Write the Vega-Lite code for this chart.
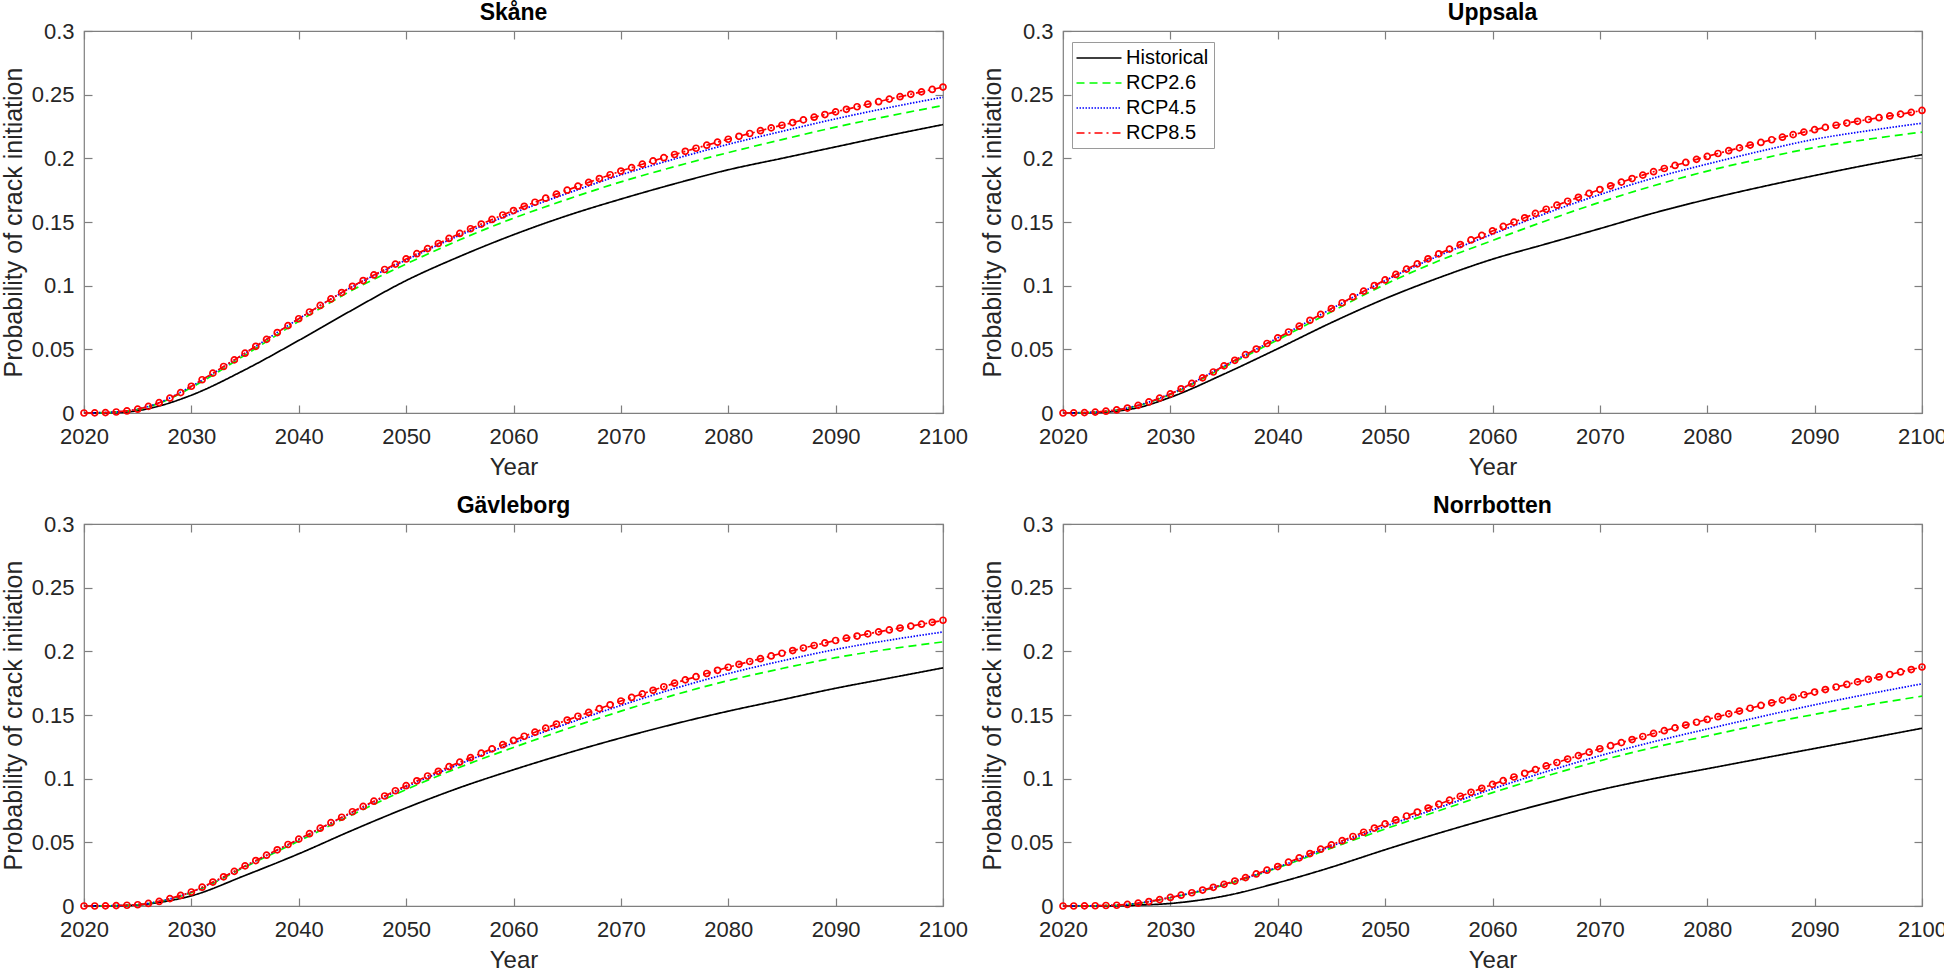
{
"$schema": "https://vega.github.io/schema/vega-lite/v6.json",
"background": "#ffffff",
"padding": {"left": 0, "top": 1, "right": 0, "bottom": 0},
"data": {"values": [
{"r":"Skåne","x":2020,"C":0,"H":0,"A":0,"B":0},
{"r":"Skåne","x":2021,"C":0.0001},
{"r":"Skåne","x":2022,"C":0.0003},
{"r":"Skåne","x":2023,"C":0.0008,"H":0.0003,"A":0.0007,"B":0.0008},
{"r":"Skåne","x":2024,"C":0.0016},
{"r":"Skåne","x":2025,"C":0.003,"H":0.0018,"A":0.0028,"B":0.003},
{"r":"Skåne","x":2026,"C":0.0052},
{"r":"Skåne","x":2027,"C":0.0081,"H":0.0055,"A":0.0076,"B":0.0081},
{"r":"Skåne","x":2028,"C":0.0117},
{"r":"Skåne","x":2029,"C":0.016},
{"r":"Skåne","x":2030,"C":0.021,"H":0.014,"A":0.02,"B":0.021},
{"r":"Skåne","x":2031,"C":0.0261},
{"r":"Skåne","x":2032,"C":0.0313},
{"r":"Skåne","x":2033,"C":0.0365},
{"r":"Skåne","x":2034,"C":0.0417},
{"r":"Skåne","x":2035,"C":0.047,"H":0.034,"A":0.0455,"B":0.047},
{"r":"Skåne","x":2036,"C":0.0524},
{"r":"Skåne","x":2037,"C":0.0578},
{"r":"Skåne","x":2038,"C":0.0632},
{"r":"Skåne","x":2039,"C":0.0686},
{"r":"Skåne","x":2040,"C":0.074,"H":0.057,"A":0.072,"B":0.074},
{"r":"Skåne","x":2041,"C":0.0793},
{"r":"Skåne","x":2042,"C":0.0845},
{"r":"Skåne","x":2043,"C":0.0896},
{"r":"Skåne","x":2044,"C":0.0946},
{"r":"Skåne","x":2045,"C":0.0995,"H":0.081,"A":0.0965,"B":0.0992},
{"r":"Skåne","x":2046,"C":0.104},
{"r":"Skåne","x":2047,"C":0.1084},
{"r":"Skåne","x":2048,"C":0.1127},
{"r":"Skåne","x":2049,"C":0.1169},
{"r":"Skåne","x":2050,"C":0.121,"H":0.104,"A":0.117,"B":0.1202},
{"r":"Skåne","x":2051,"C":0.1251},
{"r":"Skåne","x":2052,"C":0.1291},
{"r":"Skåne","x":2053,"C":0.1331},
{"r":"Skåne","x":2054,"C":0.1371},
{"r":"Skåne","x":2055,"C":0.141,"H":0.123,"A":0.136,"B":0.1396},
{"r":"Skåne","x":2056,"C":0.1447},
{"r":"Skåne","x":2057,"C":0.1484},
{"r":"Skåne","x":2058,"C":0.152},
{"r":"Skåne","x":2059,"C":0.1555},
{"r":"Skåne","x":2060,"C":0.159,"H":0.14,"A":0.153,"B":0.157},
{"r":"Skåne","x":2061,"C":0.1623},
{"r":"Skåne","x":2062,"C":0.1655},
{"r":"Skåne","x":2063,"C":0.1687},
{"r":"Skåne","x":2064,"C":0.1719},
{"r":"Skåne","x":2065,"C":0.175,"H":0.155,"A":0.1678,"B":0.1725},
{"r":"Skåne","x":2066,"C":0.1781},
{"r":"Skåne","x":2067,"C":0.1811},
{"r":"Skåne","x":2068,"C":0.1841},
{"r":"Skåne","x":2069,"C":0.1871},
{"r":"Skåne","x":2070,"C":0.19,"H":0.168,"A":0.1815,"B":0.187},
{"r":"Skåne","x":2071,"C":0.1927},
{"r":"Skåne","x":2072,"C":0.1954},
{"r":"Skåne","x":2073,"C":0.198},
{"r":"Skåne","x":2074,"C":0.2005},
{"r":"Skåne","x":2075,"C":0.203,"H":0.18,"A":0.1935,"B":0.1995},
{"r":"Skåne","x":2076,"C":0.2055},
{"r":"Skåne","x":2077,"C":0.2079},
{"r":"Skåne","x":2078,"C":0.2103},
{"r":"Skåne","x":2079,"C":0.2127},
{"r":"Skåne","x":2080,"C":0.215,"H":0.191,"A":0.2045,"B":0.211},
{"r":"Skåne","x":2081,"C":0.2173},
{"r":"Skåne","x":2082,"C":0.2195},
{"r":"Skåne","x":2083,"C":0.2217},
{"r":"Skåne","x":2084,"C":0.2239},
{"r":"Skåne","x":2085,"C":0.226,"H":0.2,"A":0.2147,"B":0.2212},
{"r":"Skåne","x":2086,"C":0.2281},
{"r":"Skåne","x":2087,"C":0.2302},
{"r":"Skåne","x":2088,"C":0.2323},
{"r":"Skåne","x":2089,"C":0.2344},
{"r":"Skåne","x":2090,"C":0.2365,"H":0.209,"A":0.2245,"B":0.231},
{"r":"Skåne","x":2091,"C":0.2385},
{"r":"Skåne","x":2092,"C":0.2405},
{"r":"Skåne","x":2093,"C":0.2425},
{"r":"Skåne","x":2094,"C":0.2445},
{"r":"Skåne","x":2095,"C":0.2465,"H":0.218,"A":0.2333,"B":0.2399},
{"r":"Skåne","x":2096,"C":0.2484},
{"r":"Skåne","x":2097,"C":0.2503},
{"r":"Skåne","x":2098,"C":0.2522},
{"r":"Skåne","x":2099,"C":0.2541},
{"r":"Skåne","x":2100,"C":0.256,"H":0.2265,"A":0.2415,"B":0.248},

{"r":"Uppsala","x":2020,"C":0,"H":0,"A":0,"B":0},
{"r":"Uppsala","x":2021,"C":0.0001},
{"r":"Uppsala","x":2022,"C":0.0003},
{"r":"Uppsala","x":2023,"C":0.0007,"H":0.0003,"A":0.0006,"B":0.0007},
{"r":"Uppsala","x":2024,"C":0.0014},
{"r":"Uppsala","x":2025,"C":0.0024,"H":0.0015,"A":0.0023,"B":0.0024},
{"r":"Uppsala","x":2026,"C":0.0039},
{"r":"Uppsala","x":2027,"C":0.006,"H":0.0042,"A":0.0058,"B":0.006},
{"r":"Uppsala","x":2028,"C":0.0087},
{"r":"Uppsala","x":2029,"C":0.0117},
{"r":"Uppsala","x":2030,"C":0.015,"H":0.0123,"A":0.0145,"B":0.015},
{"r":"Uppsala","x":2031,"C":0.019},
{"r":"Uppsala","x":2032,"C":0.0232},
{"r":"Uppsala","x":2033,"C":0.0276},
{"r":"Uppsala","x":2034,"C":0.0322},
{"r":"Uppsala","x":2035,"C":0.037,"H":0.0306,"A":0.036,"B":0.037},
{"r":"Uppsala","x":2036,"C":0.0414},
{"r":"Uppsala","x":2037,"C":0.0458},
{"r":"Uppsala","x":2038,"C":0.0502},
{"r":"Uppsala","x":2039,"C":0.0546},
{"r":"Uppsala","x":2040,"C":0.059,"H":0.0505,"A":0.0575,"B":0.059},
{"r":"Uppsala","x":2041,"C":0.0636},
{"r":"Uppsala","x":2042,"C":0.0682},
{"r":"Uppsala","x":2043,"C":0.0728},
{"r":"Uppsala","x":2044,"C":0.0774},
{"r":"Uppsala","x":2045,"C":0.082,"H":0.071,"A":0.0795,"B":0.0818},
{"r":"Uppsala","x":2046,"C":0.0866},
{"r":"Uppsala","x":2047,"C":0.0912},
{"r":"Uppsala","x":2048,"C":0.0957},
{"r":"Uppsala","x":2049,"C":0.1001},
{"r":"Uppsala","x":2050,"C":0.1045,"H":0.0898,"A":0.101,"B":0.104},
{"r":"Uppsala","x":2051,"C":0.1088},
{"r":"Uppsala","x":2052,"C":0.113},
{"r":"Uppsala","x":2053,"C":0.1171},
{"r":"Uppsala","x":2054,"C":0.1211},
{"r":"Uppsala","x":2055,"C":0.125,"H":0.1062,"A":0.1195,"B":0.1235},
{"r":"Uppsala","x":2056,"C":0.1287},
{"r":"Uppsala","x":2057,"C":0.1323},
{"r":"Uppsala","x":2058,"C":0.1359},
{"r":"Uppsala","x":2059,"C":0.1395},
{"r":"Uppsala","x":2060,"C":0.143,"H":0.1208,"A":0.1355,"B":0.1405},
{"r":"Uppsala","x":2061,"C":0.1465},
{"r":"Uppsala","x":2062,"C":0.1499},
{"r":"Uppsala","x":2063,"C":0.1533},
{"r":"Uppsala","x":2064,"C":0.1567},
{"r":"Uppsala","x":2065,"C":0.16,"H":0.1328,"A":0.151,"B":0.1568},
{"r":"Uppsala","x":2066,"C":0.1632},
{"r":"Uppsala","x":2067,"C":0.1663},
{"r":"Uppsala","x":2068,"C":0.1694},
{"r":"Uppsala","x":2069,"C":0.1725},
{"r":"Uppsala","x":2070,"C":0.1755,"H":0.1448,"A":0.1655,"B":0.1715},
{"r":"Uppsala","x":2071,"C":0.1784},
{"r":"Uppsala","x":2072,"C":0.1813},
{"r":"Uppsala","x":2073,"C":0.1841},
{"r":"Uppsala","x":2074,"C":0.1868},
{"r":"Uppsala","x":2075,"C":0.1895,"H":0.157,"A":0.1785,"B":0.1845},
{"r":"Uppsala","x":2076,"C":0.192},
{"r":"Uppsala","x":2077,"C":0.1944},
{"r":"Uppsala","x":2078,"C":0.1968},
{"r":"Uppsala","x":2079,"C":0.1992},
{"r":"Uppsala","x":2080,"C":0.2015,"H":0.1678,"A":0.19,"B":0.1955},
{"r":"Uppsala","x":2081,"C":0.2038},
{"r":"Uppsala","x":2082,"C":0.206},
{"r":"Uppsala","x":2083,"C":0.2082},
{"r":"Uppsala","x":2084,"C":0.2104},
{"r":"Uppsala","x":2085,"C":0.2125,"H":0.1775,"A":0.1997,"B":0.2057},
{"r":"Uppsala","x":2086,"C":0.2146},
{"r":"Uppsala","x":2087,"C":0.2166},
{"r":"Uppsala","x":2088,"C":0.2186},
{"r":"Uppsala","x":2089,"C":0.2206},
{"r":"Uppsala","x":2090,"C":0.2225,"H":0.1865,"A":0.2085,"B":0.215},
{"r":"Uppsala","x":2091,"C":0.2243},
{"r":"Uppsala","x":2092,"C":0.226},
{"r":"Uppsala","x":2093,"C":0.2277},
{"r":"Uppsala","x":2094,"C":0.2291},
{"r":"Uppsala","x":2095,"C":0.2305,"H":0.195,"A":0.215,"B":0.2217},
{"r":"Uppsala","x":2096,"C":0.2319},
{"r":"Uppsala","x":2097,"C":0.2333},
{"r":"Uppsala","x":2098,"C":0.2347},
{"r":"Uppsala","x":2099,"C":0.2361},
{"r":"Uppsala","x":2100,"C":0.2376,"H":0.2028,"A":0.2206,"B":0.2276},

{"r":"Gävleborg","x":2020,"C":0,"H":0,"A":0,"B":0},
{"r":"Gävleborg","x":2021,"C":0},
{"r":"Gävleborg","x":2022,"C":0.0001},
{"r":"Gävleborg","x":2023,"C":0.0003,"H":0.0002,"A":0.0003,"B":0.0003},
{"r":"Gävleborg","x":2024,"C":0.0006},
{"r":"Gävleborg","x":2025,"C":0.001,"H":0.0008,"A":0.001,"B":0.001},
{"r":"Gävleborg","x":2026,"C":0.002},
{"r":"Gävleborg","x":2027,"C":0.0036,"H":0.0028,"A":0.0035,"B":0.0036},
{"r":"Gävleborg","x":2028,"C":0.0058},
{"r":"Gävleborg","x":2029,"C":0.0083},
{"r":"Gävleborg","x":2030,"C":0.011,"H":0.008,"A":0.0105,"B":0.011},
{"r":"Gävleborg","x":2031,"C":0.0148},
{"r":"Gävleborg","x":2032,"C":0.0188},
{"r":"Gävleborg","x":2033,"C":0.0229},
{"r":"Gävleborg","x":2034,"C":0.0272},
{"r":"Gävleborg","x":2035,"C":0.0315,"H":0.024,"A":0.0307,"B":0.0313},
{"r":"Gävleborg","x":2036,"C":0.0357},
{"r":"Gävleborg","x":2037,"C":0.0399},
{"r":"Gävleborg","x":2038,"C":0.0441},
{"r":"Gävleborg","x":2039,"C":0.0483},
{"r":"Gävleborg","x":2040,"C":0.0525,"H":0.041,"A":0.051,"B":0.0522},
{"r":"Gävleborg","x":2041,"C":0.0568},
{"r":"Gävleborg","x":2042,"C":0.0611},
{"r":"Gävleborg","x":2043,"C":0.0654},
{"r":"Gävleborg","x":2044,"C":0.0697},
{"r":"Gävleborg","x":2045,"C":0.074,"H":0.0595,"A":0.0718,"B":0.0735},
{"r":"Gävleborg","x":2046,"C":0.0782},
{"r":"Gävleborg","x":2047,"C":0.0823},
{"r":"Gävleborg","x":2048,"C":0.0864},
{"r":"Gävleborg","x":2049,"C":0.0905},
{"r":"Gävleborg","x":2050,"C":0.0945,"H":0.077,"A":0.0915,"B":0.0935},
{"r":"Gävleborg","x":2051,"C":0.0983},
{"r":"Gävleborg","x":2052,"C":0.1021},
{"r":"Gävleborg","x":2053,"C":0.1058},
{"r":"Gävleborg","x":2054,"C":0.1094},
{"r":"Gävleborg","x":2055,"C":0.113,"H":0.093,"A":0.109,"B":0.1115},
{"r":"Gävleborg","x":2056,"C":0.1165},
{"r":"Gävleborg","x":2057,"C":0.12},
{"r":"Gävleborg","x":2058,"C":0.1234},
{"r":"Gävleborg","x":2059,"C":0.1267},
{"r":"Gävleborg","x":2060,"C":0.13,"H":0.107,"A":0.1245,"B":0.128},
{"r":"Gävleborg","x":2061,"C":0.1333},
{"r":"Gävleborg","x":2062,"C":0.1365},
{"r":"Gävleborg","x":2063,"C":0.1397},
{"r":"Gävleborg","x":2064,"C":0.1429},
{"r":"Gävleborg","x":2065,"C":0.146,"H":0.12,"A":0.1392,"B":0.1432},
{"r":"Gävleborg","x":2066,"C":0.149},
{"r":"Gävleborg","x":2067,"C":0.152},
{"r":"Gävleborg","x":2068,"C":0.155},
{"r":"Gävleborg","x":2069,"C":0.158},
{"r":"Gävleborg","x":2070,"C":0.161,"H":0.132,"A":0.153,"B":0.1575},
{"r":"Gävleborg","x":2071,"C":0.1638},
{"r":"Gävleborg","x":2072,"C":0.1666},
{"r":"Gävleborg","x":2073,"C":0.1694},
{"r":"Gävleborg","x":2074,"C":0.1722},
{"r":"Gävleborg","x":2075,"C":0.175,"H":0.143,"A":0.1658,"B":0.1708},
{"r":"Gävleborg","x":2076,"C":0.1776},
{"r":"Gävleborg","x":2077,"C":0.1801},
{"r":"Gävleborg","x":2078,"C":0.1826},
{"r":"Gävleborg","x":2079,"C":0.1851},
{"r":"Gävleborg","x":2080,"C":0.1875,"H":0.153,"A":0.177,"B":0.1825},
{"r":"Gävleborg","x":2081,"C":0.1898},
{"r":"Gävleborg","x":2082,"C":0.192},
{"r":"Gävleborg","x":2083,"C":0.1942},
{"r":"Gävleborg","x":2084,"C":0.1964},
{"r":"Gävleborg","x":2085,"C":0.1985,"H":0.162,"A":0.1865,"B":0.1925},
{"r":"Gävleborg","x":2086,"C":0.2006},
{"r":"Gävleborg","x":2087,"C":0.2026},
{"r":"Gävleborg","x":2088,"C":0.2046},
{"r":"Gävleborg","x":2089,"C":0.2066},
{"r":"Gävleborg","x":2090,"C":0.2085,"H":0.171,"A":0.195,"B":0.2015},
{"r":"Gävleborg","x":2091,"C":0.2103},
{"r":"Gävleborg","x":2092,"C":0.212},
{"r":"Gävleborg","x":2093,"C":0.2137},
{"r":"Gävleborg","x":2094,"C":0.2153},
{"r":"Gävleborg","x":2095,"C":0.2168,"H":0.179,"A":0.2018,"B":0.2088},
{"r":"Gävleborg","x":2096,"C":0.2183},
{"r":"Gävleborg","x":2097,"C":0.2198},
{"r":"Gävleborg","x":2098,"C":0.2213},
{"r":"Gävleborg","x":2099,"C":0.2228},
{"r":"Gävleborg","x":2100,"C":0.2244,"H":0.187,"A":0.2074,"B":0.2152},

{"r":"Norrbotten","x":2020,"C":0,"H":0,"A":0,"B":0},
{"r":"Norrbotten","x":2021,"C":0},
{"r":"Norrbotten","x":2022,"C":0.0001},
{"r":"Norrbotten","x":2023,"C":0.0002,"H":0,"A":0.0002,"B":0.0002},
{"r":"Norrbotten","x":2024,"C":0.0004},
{"r":"Norrbotten","x":2025,"C":0.0006,"H":0.0002,"A":0.0006,"B":0.0006},
{"r":"Norrbotten","x":2026,"C":0.0012},
{"r":"Norrbotten","x":2027,"C":0.0022,"H":0.0007,"A":0.0021,"B":0.0022},
{"r":"Norrbotten","x":2028,"C":0.0035},
{"r":"Norrbotten","x":2029,"C":0.005},
{"r":"Norrbotten","x":2030,"C":0.0067,"H":0.002,"A":0.0065,"B":0.0067},
{"r":"Norrbotten","x":2031,"C":0.0085},
{"r":"Norrbotten","x":2032,"C":0.0104},
{"r":"Norrbotten","x":2033,"C":0.0125},
{"r":"Norrbotten","x":2034,"C":0.0147},
{"r":"Norrbotten","x":2035,"C":0.017,"H":0.0078,"A":0.0165,"B":0.0169},
{"r":"Norrbotten","x":2036,"C":0.0196},
{"r":"Norrbotten","x":2037,"C":0.0223},
{"r":"Norrbotten","x":2038,"C":0.0252},
{"r":"Norrbotten","x":2039,"C":0.0281},
{"r":"Norrbotten","x":2040,"C":0.031,"H":0.0182,"A":0.03,"B":0.0305},
{"r":"Norrbotten","x":2041,"C":0.0344},
{"r":"Norrbotten","x":2042,"C":0.0378},
{"r":"Norrbotten","x":2043,"C":0.0412},
{"r":"Norrbotten","x":2044,"C":0.0446},
{"r":"Norrbotten","x":2045,"C":0.048,"H":0.0305,"A":0.0455,"B":0.047},
{"r":"Norrbotten","x":2046,"C":0.0513},
{"r":"Norrbotten","x":2047,"C":0.0546},
{"r":"Norrbotten","x":2048,"C":0.0579},
{"r":"Norrbotten","x":2049,"C":0.0612},
{"r":"Norrbotten","x":2050,"C":0.0645,"H":0.0442,"A":0.0605,"B":0.0625},
{"r":"Norrbotten","x":2051,"C":0.0676},
{"r":"Norrbotten","x":2052,"C":0.0707},
{"r":"Norrbotten","x":2053,"C":0.0738},
{"r":"Norrbotten","x":2054,"C":0.0769},
{"r":"Norrbotten","x":2055,"C":0.08,"H":0.0572,"A":0.0748,"B":0.0772},
{"r":"Norrbotten","x":2056,"C":0.0831},
{"r":"Norrbotten","x":2057,"C":0.0862},
{"r":"Norrbotten","x":2058,"C":0.0893},
{"r":"Norrbotten","x":2059,"C":0.0924},
{"r":"Norrbotten","x":2060,"C":0.0955,"H":0.0694,"A":0.089,"B":0.092},
{"r":"Norrbotten","x":2061,"C":0.0984},
{"r":"Norrbotten","x":2062,"C":0.1013},
{"r":"Norrbotten","x":2063,"C":0.1042},
{"r":"Norrbotten","x":2064,"C":0.1071},
{"r":"Norrbotten","x":2065,"C":0.11,"H":0.0808,"A":0.102,"B":0.1055},
{"r":"Norrbotten","x":2066,"C":0.1127},
{"r":"Norrbotten","x":2067,"C":0.1154},
{"r":"Norrbotten","x":2068,"C":0.1181},
{"r":"Norrbotten","x":2069,"C":0.1208},
{"r":"Norrbotten","x":2070,"C":0.1235,"H":0.0912,"A":0.114,"B":0.118},
{"r":"Norrbotten","x":2071,"C":0.1259},
{"r":"Norrbotten","x":2072,"C":0.1283},
{"r":"Norrbotten","x":2073,"C":0.1307},
{"r":"Norrbotten","x":2074,"C":0.1331},
{"r":"Norrbotten","x":2075,"C":0.1355,"H":0.1,"A":0.1245,"B":0.129},
{"r":"Norrbotten","x":2076,"C":0.1377},
{"r":"Norrbotten","x":2077,"C":0.1399},
{"r":"Norrbotten","x":2078,"C":0.1421},
{"r":"Norrbotten","x":2079,"C":0.1443},
{"r":"Norrbotten","x":2080,"C":0.1465,"H":0.1078,"A":0.1335,"B":0.139},
{"r":"Norrbotten","x":2081,"C":0.1487},
{"r":"Norrbotten","x":2082,"C":0.1509},
{"r":"Norrbotten","x":2083,"C":0.1531},
{"r":"Norrbotten","x":2084,"C":0.1553},
{"r":"Norrbotten","x":2085,"C":0.1575,"H":0.1158,"A":0.1425,"B":0.1487},
{"r":"Norrbotten","x":2086,"C":0.1596},
{"r":"Norrbotten","x":2087,"C":0.1617},
{"r":"Norrbotten","x":2088,"C":0.1638},
{"r":"Norrbotten","x":2089,"C":0.1659},
{"r":"Norrbotten","x":2090,"C":0.168,"H":0.1237,"A":0.1505,"B":0.158},
{"r":"Norrbotten","x":2091,"C":0.17},
{"r":"Norrbotten","x":2092,"C":0.172},
{"r":"Norrbotten","x":2093,"C":0.174},
{"r":"Norrbotten","x":2094,"C":0.176},
{"r":"Norrbotten","x":2095,"C":0.178,"H":0.1316,"A":0.158,"B":0.1665},
{"r":"Norrbotten","x":2096,"C":0.1799},
{"r":"Norrbotten","x":2097,"C":0.1818},
{"r":"Norrbotten","x":2098,"C":0.1838},
{"r":"Norrbotten","x":2099,"C":0.1857},
{"r":"Norrbotten","x":2100,"C":0.1877,"H":0.1396,"A":0.1648,"B":0.1745}
]},
"columns": 2,
"spacing": {"row": 14, "column": 10},
"concat": [
{
"title": {"text": "Skåne"},
"width": 859, "height": 382,
"transform": [{"filter": "datum.r == 'Skåne'"}, {"fold": ["H","A","B","C"], "as": ["s","y"]}, {"filter": "isValid(datum.y)"}],
"resolve": {"scale": {"x": "independent", "y": "independent"}},
"layer": [
{"mark": {"type": "line", "interpolate": "monotone", "strokeWidth": 1.7},
 "encoding": {
  "x": {"field": "x", "type": "quantitative", "scale": {"domain": [2020, 2100], "nice": false, "zero": false}, "axis": {"title": "Year", "values": [2020,2030,2040,2050,2060,2070,2080,2090,2100], "format": "d"}},
  "y": {"field": "y", "type": "quantitative", "scale": {"domain": [0, 0.3], "nice": false}, "axis": {"title": "Probability of crack initiation", "values": [0,0.05,0.1,0.15,0.2,0.25,0.3], "format": "~g"}},
  "color": {"field": "s", "type": "nominal", "scale": {"domain": ["H","A","B","C"], "range": ["#000000","#00ff00","#0000ff","#ff0000"]}, "legend": {"orient": "none", "legendX": 988, "legendY": 11, "title": null, "labelExpr": "datum.label == 'H' ? 'Historical' : datum.label == 'A' ? 'RCP2.6' : datum.label == 'B' ? 'RCP4.5' : 'RCP8.5'"}},
  "strokeDash": {"field": "s", "type": "nominal", "scale": {"domain": ["H","A","B","C"], "range": [[1,0],[8,5],[1.5,1.5],[8,4,2,4]]}, "legend": {"orient": "none", "legendX": 988, "legendY": 11, "title": null, "labelExpr": "datum.label == 'H' ? 'Historical' : datum.label == 'A' ? 'RCP2.6' : datum.label == 'B' ? 'RCP4.5' : 'RCP8.5'"}}
 }},
{"transform": [{"filter": "datum.s == 'C'"}],
 "mark": {"type": "point", "shape": "circle", "filled": false, "color": "#ff0000", "size": 36, "strokeWidth": 1.7, "opacity": 1},
 "encoding": {
  "x": {"field": "x", "type": "quantitative", "scale": {"domain": [2020, 2100], "nice": false, "zero": false}, "axis": null},
  "y": {"field": "y", "type": "quantitative", "scale": {"domain": [0, 0.3], "nice": false}, "axis": null}
 }},
{"transform": [{"filter": "datum.s == 'C'"}],
 "mark": {"type": "point", "opacity": 0},
 "encoding": {
  "x": {"field": "x", "type": "quantitative", "scale": {"domain": [2020, 2100], "nice": false, "zero": false}, "axis": {"orient": "top", "labels": false, "title": null, "values": [2020,2030,2040,2050,2060,2070,2080,2090,2100], "minExtent": 0, "maxExtent": 0}},
  "y": {"field": "y", "type": "quantitative", "scale": {"domain": [0, 0.3], "nice": false}, "axis": {"orient": "right", "labels": false, "title": null, "values": [0,0.05,0.1,0.15,0.2,0.25,0.3], "minExtent": 0, "maxExtent": 0}}
 }}
]
},
{
"title": {"text": "Uppsala"},
"width": 859, "height": 382,
"transform": [{"filter": "datum.r == 'Uppsala'"}, {"fold": ["H","A","B","C"], "as": ["s","y"]}, {"filter": "isValid(datum.y)"}],
"resolve": {"scale": {"x": "independent", "y": "independent"}},
"layer": [
{"mark": {"type": "line", "interpolate": "monotone", "strokeWidth": 1.7},
 "encoding": {
  "x": {"field": "x", "type": "quantitative", "scale": {"domain": [2020, 2100], "nice": false, "zero": false}, "axis": {"title": "Year", "values": [2020,2030,2040,2050,2060,2070,2080,2090,2100], "format": "d"}},
  "y": {"field": "y", "type": "quantitative", "scale": {"domain": [0, 0.3], "nice": false}, "axis": {"title": "Probability of crack initiation", "values": [0,0.05,0.1,0.15,0.2,0.25,0.3], "format": "~g"}},
  "color": {"field": "s", "type": "nominal", "scale": {"domain": ["H","A","B","C"], "range": ["#000000","#00ff00","#0000ff","#ff0000"]}, "legend": {"orient": "none", "legendX": 988, "legendY": 11, "title": null, "labelExpr": "datum.label == 'H' ? 'Historical' : datum.label == 'A' ? 'RCP2.6' : datum.label == 'B' ? 'RCP4.5' : 'RCP8.5'"}},
  "strokeDash": {"field": "s", "type": "nominal", "scale": {"domain": ["H","A","B","C"], "range": [[1,0],[8,5],[1.5,1.5],[8,4,2,4]]}, "legend": {"orient": "none", "legendX": 988, "legendY": 11, "title": null, "labelExpr": "datum.label == 'H' ? 'Historical' : datum.label == 'A' ? 'RCP2.6' : datum.label == 'B' ? 'RCP4.5' : 'RCP8.5'"}}
 }},
{"transform": [{"filter": "datum.s == 'C'"}],
 "mark": {"type": "point", "shape": "circle", "filled": false, "color": "#ff0000", "size": 36, "strokeWidth": 1.7, "opacity": 1},
 "encoding": {
  "x": {"field": "x", "type": "quantitative", "scale": {"domain": [2020, 2100], "nice": false, "zero": false}, "axis": null},
  "y": {"field": "y", "type": "quantitative", "scale": {"domain": [0, 0.3], "nice": false}, "axis": null}
 }},
{"transform": [{"filter": "datum.s == 'C'"}],
 "mark": {"type": "point", "opacity": 0},
 "encoding": {
  "x": {"field": "x", "type": "quantitative", "scale": {"domain": [2020, 2100], "nice": false, "zero": false}, "axis": {"orient": "top", "labels": false, "title": null, "values": [2020,2030,2040,2050,2060,2070,2080,2090,2100], "minExtent": 0, "maxExtent": 0}},
  "y": {"field": "y", "type": "quantitative", "scale": {"domain": [0, 0.3], "nice": false}, "axis": {"orient": "right", "labels": false, "title": null, "values": [0,0.05,0.1,0.15,0.2,0.25,0.3], "minExtent": 0, "maxExtent": 0}}
 }}
]
},
{
"title": {"text": "Gävleborg"},
"width": 859, "height": 382,
"transform": [{"filter": "datum.r == 'Gävleborg'"}, {"fold": ["H","A","B","C"], "as": ["s","y"]}, {"filter": "isValid(datum.y)"}],
"resolve": {"scale": {"x": "independent", "y": "independent"}},
"layer": [
{"mark": {"type": "line", "interpolate": "monotone", "strokeWidth": 1.7},
 "encoding": {
  "x": {"field": "x", "type": "quantitative", "scale": {"domain": [2020, 2100], "nice": false, "zero": false}, "axis": {"title": "Year", "values": [2020,2030,2040,2050,2060,2070,2080,2090,2100], "format": "d"}},
  "y": {"field": "y", "type": "quantitative", "scale": {"domain": [0, 0.3], "nice": false}, "axis": {"title": "Probability of crack initiation", "values": [0,0.05,0.1,0.15,0.2,0.25,0.3], "format": "~g"}},
  "color": {"field": "s", "type": "nominal", "scale": {"domain": ["H","A","B","C"], "range": ["#000000","#00ff00","#0000ff","#ff0000"]}, "legend": {"orient": "none", "legendX": 988, "legendY": 11, "title": null, "labelExpr": "datum.label == 'H' ? 'Historical' : datum.label == 'A' ? 'RCP2.6' : datum.label == 'B' ? 'RCP4.5' : 'RCP8.5'"}},
  "strokeDash": {"field": "s", "type": "nominal", "scale": {"domain": ["H","A","B","C"], "range": [[1,0],[8,5],[1.5,1.5],[8,4,2,4]]}, "legend": {"orient": "none", "legendX": 988, "legendY": 11, "title": null, "labelExpr": "datum.label == 'H' ? 'Historical' : datum.label == 'A' ? 'RCP2.6' : datum.label == 'B' ? 'RCP4.5' : 'RCP8.5'"}}
 }},
{"transform": [{"filter": "datum.s == 'C'"}],
 "mark": {"type": "point", "shape": "circle", "filled": false, "color": "#ff0000", "size": 36, "strokeWidth": 1.7, "opacity": 1},
 "encoding": {
  "x": {"field": "x", "type": "quantitative", "scale": {"domain": [2020, 2100], "nice": false, "zero": false}, "axis": null},
  "y": {"field": "y", "type": "quantitative", "scale": {"domain": [0, 0.3], "nice": false}, "axis": null}
 }},
{"transform": [{"filter": "datum.s == 'C'"}],
 "mark": {"type": "point", "opacity": 0},
 "encoding": {
  "x": {"field": "x", "type": "quantitative", "scale": {"domain": [2020, 2100], "nice": false, "zero": false}, "axis": {"orient": "top", "labels": false, "title": null, "values": [2020,2030,2040,2050,2060,2070,2080,2090,2100], "minExtent": 0, "maxExtent": 0}},
  "y": {"field": "y", "type": "quantitative", "scale": {"domain": [0, 0.3], "nice": false}, "axis": {"orient": "right", "labels": false, "title": null, "values": [0,0.05,0.1,0.15,0.2,0.25,0.3], "minExtent": 0, "maxExtent": 0}}
 }}
]
},
{
"title": {"text": "Norrbotten"},
"width": 859, "height": 382,
"transform": [{"filter": "datum.r == 'Norrbotten'"}, {"fold": ["H","A","B","C"], "as": ["s","y"]}, {"filter": "isValid(datum.y)"}],
"resolve": {"scale": {"x": "independent", "y": "independent"}},
"layer": [
{"mark": {"type": "line", "interpolate": "monotone", "strokeWidth": 1.7},
 "encoding": {
  "x": {"field": "x", "type": "quantitative", "scale": {"domain": [2020, 2100], "nice": false, "zero": false}, "axis": {"title": "Year", "values": [2020,2030,2040,2050,2060,2070,2080,2090,2100], "format": "d"}},
  "y": {"field": "y", "type": "quantitative", "scale": {"domain": [0, 0.3], "nice": false}, "axis": {"title": "Probability of crack initiation", "values": [0,0.05,0.1,0.15,0.2,0.25,0.3], "format": "~g"}},
  "color": {"field": "s", "type": "nominal", "scale": {"domain": ["H","A","B","C"], "range": ["#000000","#00ff00","#0000ff","#ff0000"]}, "legend": {"orient": "none", "legendX": 988, "legendY": 11, "title": null, "labelExpr": "datum.label == 'H' ? 'Historical' : datum.label == 'A' ? 'RCP2.6' : datum.label == 'B' ? 'RCP4.5' : 'RCP8.5'"}},
  "strokeDash": {"field": "s", "type": "nominal", "scale": {"domain": ["H","A","B","C"], "range": [[1,0],[8,5],[1.5,1.5],[8,4,2,4]]}, "legend": {"orient": "none", "legendX": 988, "legendY": 11, "title": null, "labelExpr": "datum.label == 'H' ? 'Historical' : datum.label == 'A' ? 'RCP2.6' : datum.label == 'B' ? 'RCP4.5' : 'RCP8.5'"}}
 }},
{"transform": [{"filter": "datum.s == 'C'"}],
 "mark": {"type": "point", "shape": "circle", "filled": false, "color": "#ff0000", "size": 36, "strokeWidth": 1.7, "opacity": 1},
 "encoding": {
  "x": {"field": "x", "type": "quantitative", "scale": {"domain": [2020, 2100], "nice": false, "zero": false}, "axis": null},
  "y": {"field": "y", "type": "quantitative", "scale": {"domain": [0, 0.3], "nice": false}, "axis": null}
 }},
{"transform": [{"filter": "datum.s == 'C'"}],
 "mark": {"type": "point", "opacity": 0},
 "encoding": {
  "x": {"field": "x", "type": "quantitative", "scale": {"domain": [2020, 2100], "nice": false, "zero": false}, "axis": {"orient": "top", "labels": false, "title": null, "values": [2020,2030,2040,2050,2060,2070,2080,2090,2100], "minExtent": 0, "maxExtent": 0}},
  "y": {"field": "y", "type": "quantitative", "scale": {"domain": [0, 0.3], "nice": false}, "axis": {"orient": "right", "labels": false, "title": null, "values": [0,0.05,0.1,0.15,0.2,0.25,0.3], "minExtent": 0, "maxExtent": 0}}
 }}
]
}
],
"config": {
 "font": "Liberation Sans",
 "view": {"stroke": "#7f7f7f", "strokeWidth": 1.2},
 "title": {"fontSize": 23, "fontWeight": "bold", "color": "#000000", "anchor": "middle", "baseline": "alphabetic", "offset": -5, "frame": "group", "font": "Liberation Sans"},
 "axis": {"grid": false, "domain": false, "tickColor": "#7f7f7f", "tickSize": -8, "tickWidth": 1.2, "labelFont": "Liberation Sans", "labelFontSize": 22, "labelColor": "#262626", "titleFont": "Liberation Sans", "titleFontSize": 24, "titleFontWeight": "normal", "titleColor": "#262626", "labelFlush": false, "labelOverlap": false},
 "axisX": {"labelPadding": 21, "titlePadding": 8},
 "axisY": {"labelPadding": 18, "titlePadding": 5, "titleFontSize": 25},
 "legend": {"symbolType": "M-2.25,0L2.25,0", "symbolSize": 400, "symbolStrokeWidth": 1.5, "symbolOffset": 11, "labelOffset": 16, "labelFontSize": 20, "labelFont": "Liberation Sans", "labelColor": "#000000", "padding": 5, "rowPadding": 4, "strokeColor": "#9a9a9a", "fillColor": "#ffffff"}
}
}
